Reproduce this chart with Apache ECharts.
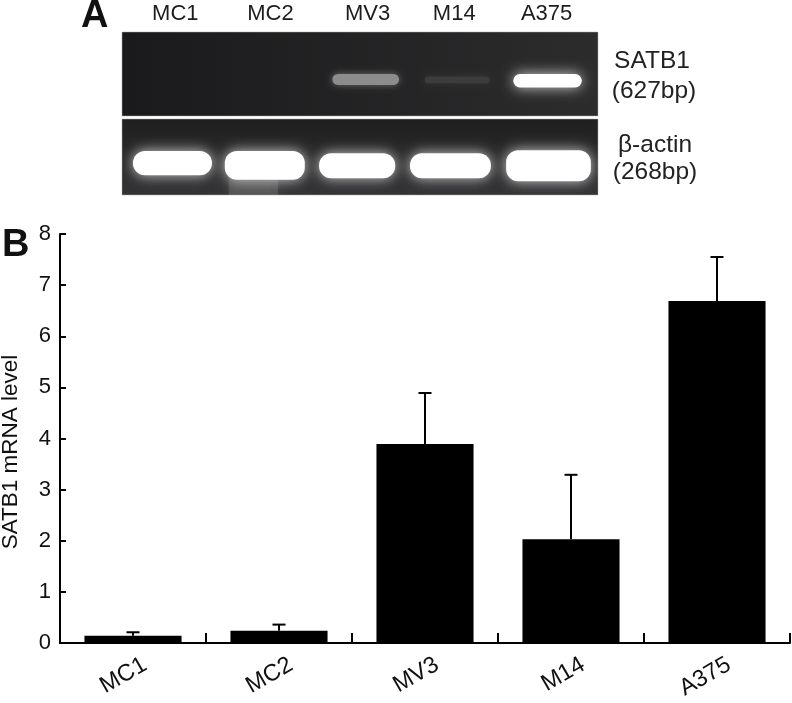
<!DOCTYPE html>
<html><head><meta charset="utf-8">
<style>html,body{margin:0;padding:0;background:#fff}#c{width:792px;height:703px}</style>
<script src="https://cdn.jsdelivr.net/npm/echarts@6/dist/echarts.min.js"></script>
</head><body><div id="c"></div>
<script>
const categories = ['MC1','MC2','MV3','M14','A375'];
const mrnaLevel = [0.14,0.24,3.89,2.03,6.69];
const errorTop = [0.21,0.36,4.89,3.29,7.55];
const yTicks = [0,1,2,3,4,5,6,7,8];
// Gel lane labels, measured along the gel (0..5 lanes)
const laneLabelPos = [0.56,1.56,2.58,3.49,4.46];
// Gel bands: [lane centre, lane width, top %, bottom %, brightness 0-1]
const satb1Bands = [[2.56,0.70,50,63,0.45],[3.52,0.68,53,61,0.07],[4.47,0.72,50,66,1]];
const actinBands = [[0.53,0.83,42,74,1],[1.50,0.84,42,80,1],[2.47,0.80,45,78,1],[3.45,0.85,45,78,1],[4.48,0.89,41,82,1]];
const smears = [[1.38,0.52,78,100,0.26]];

const font = '"Liberation Sans", Arial, sans-serif';
const chart = echarts.init(document.getElementById('c'), null, {renderer:'canvas'});

function bandRender(params, api){
  const cx = api.value(0), wd = api.value(1), t = api.value(2), bt = api.value(3), b = api.value(4);
  const p0 = api.coord([cx - wd/2, t]), p1 = api.coord([cx + wd/2, bt]);
  const v = Math.round(45 + 210*b);
  const col = 'rgb('+v+','+v+','+v+')';
  const h = p1[1]-p0[1];
  const bright = b > 0.9;
  return {type:'rect',
    shape:{x:p0[0], y:p0[1], width:p1[0]-p0[0], height:h, r:Math.min(h/2, 12)},
    style:{fill:col,
      shadowBlur: bright ? 14 : 7,
      shadowColor: bright ? 'rgba(230,230,230,0.9)' : 'rgba('+v+','+v+','+v+',0.7)'}};
}
function smearRender(params, api){
  const cx = api.value(0), wd = api.value(1), t = api.value(2), bt = api.value(3), b = api.value(4);
  const p0 = api.coord([cx - wd/2, t]), p1 = api.coord([cx + wd/2, bt]);
  return {type:'rect', shape:{x:p0[0],y:p0[1],width:p1[0]-p0[0],height:p1[1]-p0[1]},
    style:{fill:'rgba(150,150,150,'+b+')', shadowBlur:12, shadowColor:'rgba(150,150,150,0.6)'}};
}
const grad = (a,b,h)=> h ? new echarts.graphic.LinearGradient(0,0,1,0,[{offset:0,color:a},{offset:1,color:b}])
                         : new echarts.graphic.LinearGradient(0,0,0,1,[{offset:0,color:a},{offset:1,color:b}]);

const gelY = (i)=>({gridIndex:i,type:'value',min:0,max:100,inverse:true,show:false,splitLine:{show:false}});
const gelX = (i)=>({gridIndex:i,type:'value',min:0,max:5,show:false,splitLine:{show:false}});

const option = {
  animation:false,
  backgroundColor:'#fff',
  textStyle:{fontFamily:font,color:'#111'},
  grid:[
    {left:60,width:730,top:234,height:409,outerBoundsMode:'none'},
    {left:122,width:476,top:32,height:84,show:true,outerBoundsMode:'none',
      backgroundColor:grad('#1a1a1c','#2c2c2d',true),borderColor:'#aaa',borderWidth:0.5},
    {left:122,width:476,top:119,height:76,show:true,outerBoundsMode:'none',
      backgroundColor:grad('#1f1f20','#333335',false),borderColor:'#aaa',borderWidth:0.5},
    {left:72,width:730,top:234,height:409,outerBoundsMode:'none'}
  ],
  xAxis:[
    {gridIndex:0,type:'category',data:categories,
      axisLine:{lineStyle:{color:'#000',width:2},onZero:false},
      axisTick:{show:true,interval:0,inside:true,length:10,alignWithLabel:false,lineStyle:{color:'#000',width:2}},
      axisLabel:{show:false}},
    gelX(1),gelX(2),
    {gridIndex:3,type:'category',data:categories,
      axisLine:{show:false},axisTick:{show:false},
      axisLabel:{rotate:30,fontSize:23.5,color:'#111',margin:20,fontFamily:font,interval:0}}
  ],
  yAxis:[
    {gridIndex:0,type:'value',min:0,max:8,interval:1,
      axisLine:{show:true,lineStyle:{color:'#000',width:2}},
      axisTick:{show:true,inside:true,length:6,lineStyle:{color:'#000',width:2}},
      axisLabel:{fontSize:22,color:'#111',margin:9,padding:[5,0,0,0],fontFamily:font,formatter:v=>yTicks.includes(v)?String(v):''},
      splitLine:{show:false}},
    gelY(1),gelY(2),
    {gridIndex:3,type:'value',min:0,max:8,show:false,splitLine:{show:false}}
  ],
  series:[
    {type:'bar',xAxisIndex:0,yAxisIndex:0,data:mrnaLevel,barWidth:'66.5%',
      itemStyle:{color:'#000'},z:3},
    {type:'custom',xAxisIndex:0,yAxisIndex:0,z:2,
      data:categories.map((c,i)=>[i,mrnaLevel[i],errorTop[i]]),
      encode:{x:0,y:[1,2]},
      renderItem(params,api){
        const x=api.coord([api.value(0),0])[0];
        const lo=api.coord([api.value(0),api.value(1)])[1];
        const hi=api.coord([api.value(0),api.value(2)])[1];
        const st={stroke:'#000',lineWidth:2};
        return {type:'group',children:[
          {type:'line',shape:{x1:x,y1:lo,x2:x,y2:hi},style:st},
          {type:'line',shape:{x1:x-6.5,y1:hi,x2:x+6.5,y2:hi},style:st}
        ]};
      }},
    {type:'custom',xAxisIndex:1,yAxisIndex:1,clip:false,silent:true,
      data:laneLabelPos.map((p,i)=>[p,categories[i]]),
      renderItem(params,api){
        const p=api.coord([api.value(0),0]);
        return {type:'text',x:p[0],y:14,style:{text:categories[params.dataIndex],
          font:'22px '+font,fill:'#1c1c1c',align:'center',verticalAlign:'middle'}};
      }},
    {type:'custom',xAxisIndex:1,yAxisIndex:1,data:satb1Bands,renderItem:bandRender,clip:true},
    {type:'custom',xAxisIndex:2,yAxisIndex:2,data:smears,renderItem:smearRender,clip:true,z:1},
    {type:'custom',xAxisIndex:2,yAxisIndex:2,data:actinBands,renderItem:bandRender,clip:true,z:2}
  ],
  graphic:[
    {type:'text',x:81,y:17,style:{text:'A',font:'bold 38px '+font,fill:'#111',verticalAlign:'middle'}},
    {type:'text',x:2,y:246,style:{text:'B',font:'bold 38px '+font,fill:'#111',verticalAlign:'middle'}},
    {type:'text',x:11,y:452,rotation:Math.PI/2,style:{text:'SATB1 mRNA level',font:'22.5px '+font,fill:'#111',align:'center',verticalAlign:'middle'}},
    {type:'text',x:652,y:61,style:{text:'SATB1',font:'24.5px '+font,fill:'#222',align:'center',verticalAlign:'middle'}},
    {type:'text',x:654,y:91,style:{text:'(627bp)',font:'24.5px '+font,fill:'#222',align:'center',verticalAlign:'middle'}},
    {type:'text',x:655,y:145,style:{text:'β-actin',font:'24.5px '+font,fill:'#222',align:'center',verticalAlign:'middle'}},
    {type:'text',x:655,y:172,style:{text:'(268bp)',font:'24.5px '+font,fill:'#222',align:'center',verticalAlign:'middle'}}
  ]
};
chart.setOption(option);
</script></body></html>
